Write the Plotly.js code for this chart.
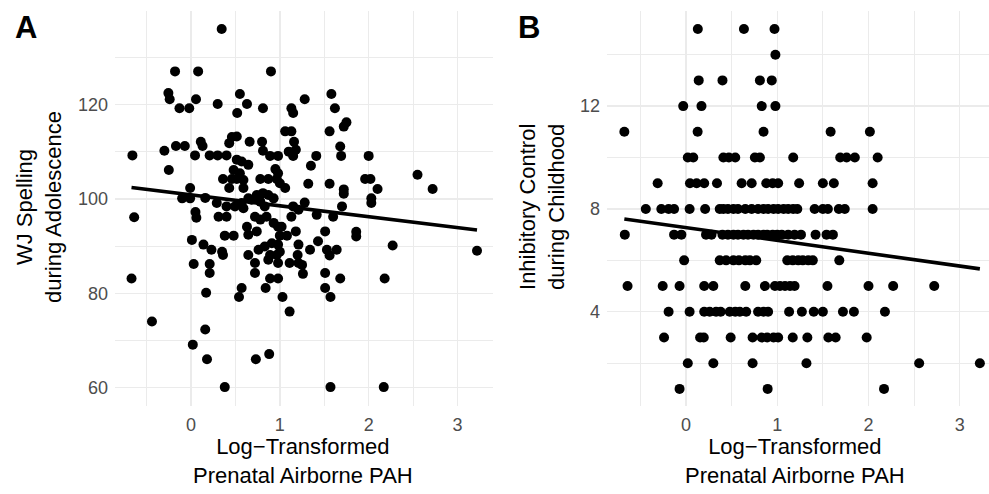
<!DOCTYPE html>
<html>
<head>
<meta charset="utf-8">
<script src="https://cdn.plot.ly/plotly-3.0.1.min.js"></script>
<style>html,body{margin:0;padding:0;background:#fff;}#chart{width:989px;height:494px;}</style>
</head>
<body>
<div id="chart"></div>
<script>
// Panel A: WJ Spelling during Adolescence vs log-transformed PAH
const A_x = [0.345,-0.18,0.08,0.90,-0.255,-0.24,0.056,-0.13,-0.02,0.30,0.55,0.63,0.52,0.81,1.13,1.15,1.28,1.58,1.62,1.56,
1.72,1.75,-0.66,-0.30,-0.17,-0.07,0.11,0.13,0.045,0.21,0.30,0.40,0.46,0.515,0.43,0.66,0.80,0.81,0.89,0.98,
1.06,1.13,1.16,1.10,1.15,1.18,1.41,1.35,1.68,1.69,2.00,-0.25,0.515,0.57,0.48,0.645,0.55,0.95,0.98,0.36,
0.46,0.515,0.59,0.43,0.59,0.78,0.87,0.965,1.00,1.06,1.32,1.56,1.72,1.72,1.96,2.02,2.10,2.03,2.03,2.55,
2.72,-0.01,-0.10,-0.01,0.16,0.29,0.05,0.06,0.40,0.495,0.57,0.645,0.74,0.81,0.87,0.93,0.59,0.68,0.78,0.83,
1.15,1.21,1.28,1.415,1.60,1.70,0.31,0.40,0.72,0.78,0.85,0.93,0.98,1.02,1.13,0.63,0.645,0.74,0.01,0.38,
0.48,1.00,1.08,1.18,1.51,1.43,1.53,1.64,1.86,1.86,0.14,0.23,0.35,0.36,0.645,0.76,0.83,0.91,0.98,0.89,
0.965,1.00,1.21,1.20,1.34,1.56,1.25,1.26,2.27,0.03,0.21,0.21,0.72,0.72,0.87,0.98,1.11,1.21,0.89,0.98,
1.51,1.68,2.18,0.17,0.57,0.54,0.84,1.03,1.51,1.57,1.11,0.16,-0.64,-0.67,-0.44,0.02,0.18,0.38,0.73,0.88,
1.57,2.17,3.22];
const A_y = [136,127,127,127,122.4,121.1,121.1,119.2,119.2,120.1,122.2,120.1,118.2,119.2,119.2,118.2,121.1,122.2,119.2,114.3,
115.3,116.2,109.2,110.2,111.2,111.2,112.1,111.2,109.2,109.2,109.2,109.2,113.1,113.2,111.8,112.1,112.1,110.2,109.1,109.1,
114.3,114.3,112.1,110.0,109.1,110.4,109.1,107.0,111.1,109.1,109.1,106.1,108.3,107.9,106.1,107.2,105.4,106.3,105.4,104.2,
104.2,104.2,104.0,102.3,102.3,104.2,104.2,104.2,103.3,102.3,103.2,103.2,102.0,101.1,104.2,104.2,102.1,100.1,99.1,105.1,
102.1,102.3,100.1,100.1,100.2,99.1,97.2,96.0,98.4,98.4,99.1,100.1,100.8,101.2,100.8,100.1,98.0,99.8,99.4,98.4,
98.4,97.7,99.2,96.6,96.2,98.4,96.2,96.2,96.2,95.6,96.2,94.9,94.1,94.1,96.2,94.1,92.4,93.1,91.3,92.2,
92.2,92.2,92.2,93.1,93.1,91.0,89.2,89.2,93.0,92.0,90.3,89.2,88.8,88.1,88.1,89.2,89.9,90.6,90.3,88.1,
88.1,88.8,90.3,88.1,89.2,88.0,86.0,84.1,90.1,86.2,86.2,84.3,86.4,84.3,87.1,86.4,86.4,86.4,83.1,83.1,
84.3,83.1,83.1,80.1,81.1,79.2,81.1,79.2,81.1,79.2,76.1,72.3,96.1,83.1,74.0,69.1,66.0,60.1,66.0,67.1,
60.1,60.1,89.0];
const A_fit = {intercept: 100.85, slope: -2.32};

// Panel B: Inhibitory Control during Childhood (integer scores) vs log-transformed PAH
const B_scores = [15,14,13,12,11,10,9,8,7,6,5,4,3,2,1];
const B_x_by_score = [
  [0.13,0.635,0.97],
  [0.98],
  [0.14,0.40,0.81,0.94],
  [-0.03,0.17,0.83,0.98],
  [-0.675,0.128,0.85,1.585,2.015],
  [0.02,0.08,0.41,0.47,0.54,0.755,0.81,1.175,1.69,1.76,1.85,2.10],
  [-0.31,0.044,0.117,0.20,0.34,0.61,0.72,0.88,0.95,1.01,1.24,1.50,1.62,2.045],
  [-0.44,-0.27,-0.19,-0.13,0.04,0.21,0.37,0.41,0.46,0.52,0.57,0.65,0.72,0.79,0.85,0.90,0.96,1.01,1.07,1.12,1.175,1.22,1.41,1.50,1.555,1.675,1.74,2.045],
  [-0.67,-0.13,-0.05,0.22,0.28,0.40,0.46,0.52,0.57,0.63,0.68,0.74,0.79,0.85,0.89,0.95,1.00,1.05,1.12,1.19,1.26,1.42,1.54,1.61],
  [-0.02,0.37,0.44,0.52,0.58,0.65,0.70,0.77,1.11,1.17,1.23,1.28,1.34,1.39,1.68],
  [-0.64,-0.255,-0.07,0.20,0.30,0.65,0.865,0.975,1.03,1.085,1.14,1.19,1.55,2.0,2.27,2.72],
  [-0.19,0.04,0.20,0.26,0.33,0.38,0.48,0.54,0.59,0.66,0.79,0.85,0.90,1.13,1.27,1.40,1.50,1.72,1.84,2.18],
  [-0.24,0.155,0.195,0.49,0.73,0.83,0.89,0.96,1.01,1.17,1.33,1.56,1.64,1.98],
  [0.02,0.30,0.73,1.32,2.555,3.22],
  [-0.07,0.895,2.17]
];
const B_fit = {intercept: 7.275, slope: -0.499};

const xTitle = "Log\u2212Transformed<br>Prenatal Airborne PAH";
const A_yTitle = "WJ Spelling<br>during Adolescence";
const B_yTitle = "Inhibitory Control<br>during Childhood";

const B_x = [], B_y = [];
B_scores.forEach((s, i) => { B_x_by_score[i].forEach(v => { B_x.push(v); B_y.push(s); }); });

function fitLine(xs, fit) {
  const lo = Math.min(...xs), hi = Math.max(...xs);
  return {x: [lo, hi], y: [fit.intercept + fit.slope * lo, fit.intercept + fit.slope * hi]};
}
const aL = fitLine(A_x, A_fit), bL = fitLine(B_x, B_fit);

const FONT = "Liberation Sans, Arial, Helvetica, sans-serif";
const mk = {size: 10, color: "#000000", line: {width: 0}};
const traces = [
  {type: "scatter", mode: "markers", x: A_x, y: A_y, xaxis: "x", yaxis: "y", marker: mk, hoverinfo: "x+y"},
  {type: "scatter", mode: "lines", x: aL.x, y: aL.y, xaxis: "x", yaxis: "y", line: {color: "#000000", width: 3.6}},
  {type: "scatter", mode: "markers", x: B_x, y: B_y, xaxis: "x2", yaxis: "y2", marker: mk, hoverinfo: "x+y"},
  {type: "scatter", mode: "lines", x: bL.x, y: bL.y, xaxis: "x2", yaxis: "y2", line: {color: "#000000", width: 3.6}}
];

const grid = "#EBEBEB";
function ax(extra) {
  return Object.assign({
    showgrid: true, gridcolor: grid, gridwidth: 1.4,
    zeroline: false, showline: false, ticks: "",
    tickfont: {family: FONT, size: 18, color: "#4D4D4D"},
    ticklabelstandoff: 6, fixedrange: true
  }, extra);
}
const yDom = [88 / 494, 483 / 494];

const layout = {
  width: 989, height: 494,
  margin: {l: 0, r: 0, t: 0, b: 0},
  paper_bgcolor: "#ffffff", plot_bgcolor: "#ffffff",
  showlegend: false,
  font: {family: FONT, color: "#000000"},
  xaxis: ax({domain: [115 / 989, 493 / 989], range: [-0.856, 3.40], tick0: 0, dtick: 1, anchor: "y",
    minor: {dtick: 0.5, tick0: 0, showgrid: true, gridcolor: grid, gridwidth: 1}}),
  yaxis: ax({domain: yDom, range: [56.1, 139.8], tick0: 0, dtick: 20, anchor: "x",
    minor: {dtick: 10, tick0: 0, showgrid: true, gridcolor: grid, gridwidth: 1}}),
  xaxis2: ax({domain: [607 / 989, 1], range: [-0.865, 3.32], tick0: 0, dtick: 1, anchor: "y2",
    minor: {dtick: 0.5, tick0: 0, showgrid: true, gridcolor: grid, gridwidth: 1}}),
  yaxis2: ax({domain: yDom, range: [0.335, 15.7], tick0: 0, dtick: 4, anchor: "x2",
    minor: {dtick: 2, tick0: 0, showgrid: true, gridcolor: grid, gridwidth: 1}}),
  annotations: [
    {text: "<b>A</b>", xref: "paper", yref: "paper", x: 13 / 989, y: 1 - 8 / 494, xanchor: "left", yanchor: "top",
      showarrow: false, font: {family: FONT, size: 31, color: "#000"}},
    {text: "<b>B</b>", xref: "paper", yref: "paper", x: 516 / 989, y: 1 - 8 / 494, xanchor: "left", yanchor: "top",
      showarrow: false, font: {family: FONT, size: 31, color: "#000"}},
    {text: A_yTitle, xref: "paper", yref: "paper", x: 39 / 989, y: 1 - 207 / 494, xanchor: "center", yanchor: "middle",
      textangle: -90, showarrow: false, font: {family: FONT, size: 22, color: "#000"}},
    {text: B_yTitle, xref: "paper", yref: "paper", x: 542 / 989, y: 1 - 207 / 494, xanchor: "center", yanchor: "middle",
      textangle: -90, showarrow: false, font: {family: FONT, size: 22, color: "#000"}},
    {text: xTitle, xref: "paper", yref: "paper", x: 303 / 989, y: 1 - 461 / 494, xanchor: "center", yanchor: "middle",
      showarrow: false, font: {family: FONT, size: 22, color: "#000"}},
    {text: xTitle, xref: "paper", yref: "paper", x: 795 / 989, y: 1 - 461 / 494, xanchor: "center", yanchor: "middle",
      showarrow: false, font: {family: FONT, size: 22, color: "#000"}}
  ]
};

Plotly.newPlot("chart", traces, layout, {displayModeBar: false, staticPlot: true});
</script>
</body>
</html>
